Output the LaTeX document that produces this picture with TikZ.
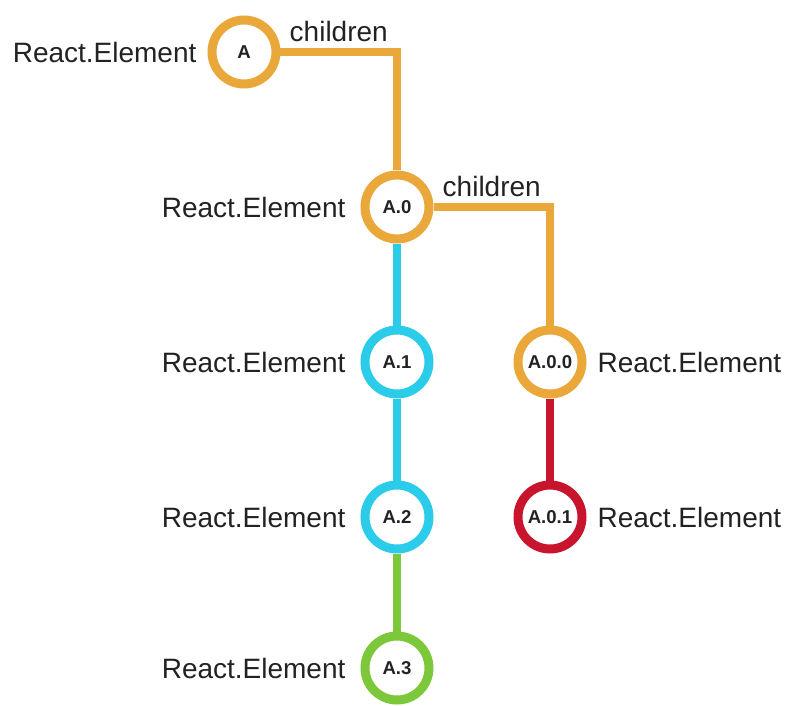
\documentclass[tikz,border=0pt]{standalone}
\usepackage{fontspec}
\setmainfont{Liberation Sans}
\usepackage{tikz}
\usetikzlibrary{positioning, backgrounds}
\definecolor{elorange}{HTML}{EBA83A}
\definecolor{elcyan}{HTML}{2BCBEA}
\definecolor{elred}{HTML}{C8142D}
\definecolor{elgreen}{HTML}{7CC83A}
\definecolor{eltext}{HTML}{222222}
\tikzstyle{element} = [circle, minimum size=32pt, inner sep=0pt, line width=4.5pt, fill=white, text=eltext, font=\bfseries\fontsize{9.3}{10}\selectfont]
\tikzstyle{elabel} = [text=eltext, font=\fontsize{14}{16}\selectfont, label distance=2pt]
\tikzstyle{link} = [line width=4pt]
\tikzstyle{kids} = [text=eltext, font=\fontsize{14}{16}\selectfont]

\begin{document}
\begin{tikzpicture}[node distance=77.5pt]
    \useasboundingbox (-122pt,26pt) rectangle (271.5pt,-327pt);
    %元素节点
    \node (a) [element, draw=elorange, label={[elabel]left:React.Element}] {A};
    \node (a0) [element, draw=elorange, below of = a, xshift = 76.5pt, label={[elabel, label distance=4pt]left:React.Element}] {A.0};
    \node (a1) [element, draw=elcyan, below of = a0, label={[elabel, label distance=4pt]left:React.Element}] {A.1};
    \node (a2) [element, draw=elcyan, below of = a1, label={[elabel, label distance=4pt]left:React.Element}] {A.2};
    \node (a3) [element, draw=elgreen, below of = a2, yshift = 2pt, label={[elabel, label distance=4pt]left:React.Element}] {A.3};
    \node (a00) [element, draw=elorange, below of = a0, xshift = 76.5pt, label={[elabel]right:React.Element}] {A.0.0};
    \node (a01) [element, draw=elred, below of = a00, label={[elabel]right:React.Element}] {A.0.1};

    %连线
    \begin{scope}[on background layer]
    \draw [link, elorange] (a) -| node[pos = 0.25, above, kids] {children} (a0);
    \draw [link, elorange] (a0) -| node[pos = 0.25, above, kids] {children} (a00);
    \draw [link, elcyan] (a0) -- (a1);
    \draw [link, elcyan] (a1) -- (a2);
    \draw [link, elgreen] (a2) -- (a3);
    \draw [link, elred] (a00) -- (a01);
    \end{scope}
\end{tikzpicture}
\end{document}
